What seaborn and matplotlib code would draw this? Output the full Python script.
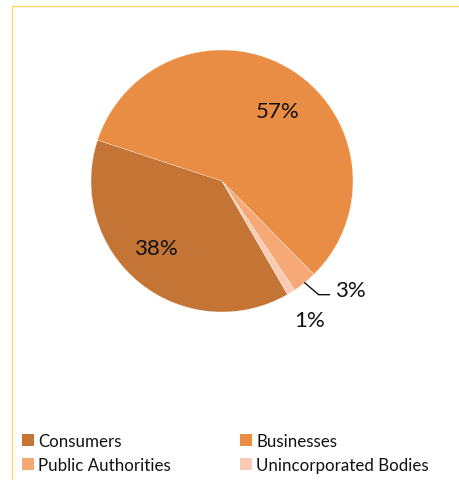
import numpy as np
import matplotlib
matplotlib.use("Agg")
import matplotlib.pyplot as plt
from matplotlib.patches import Rectangle, Patch
import seaborn as sns

# Share of complaints by complainant type (%)
categories = ["Consumers", "Businesses", "Public Authorities", "Unincorporated Bodies"]
shares = [38, 57, 3, 1]
palette = ["#C47535", "#E88D43", "#F6A877", "#F8CBB2"]

sns.set_theme(style="white")
plt.rcParams["font.family"] = ["Lato", "DejaVu Sans"]

W, H = 459, 481
fig = plt.figure(figsize=(W / 100, H / 100), dpi=100)
ax = fig.add_axes([0, 0, 1, 1])

# Pie laid out in pixel units (y upwards)
cx, cy, R = 222, H - 182, 131
wedges, _ = ax.pie(
    shares,
    colors=palette,
    startangle=-60,
    counterclock=False,
    center=(cx, cy),
    radius=R,
    wedgeprops=dict(linewidth=0.2, edgecolor="white"),
)
ax.set_xlim(0, W)
ax.set_ylim(0, H)
ax.set_aspect("equal")
ax.axis("off")

lab_fs = 16
ink = "#111111"

# Labels inside the two large slices
inside_pos = {"Consumers": (156, H - 249), "Businesses": (278, H - 112)}
for name, val in zip(categories, shares):
    if name in inside_pos:
        x, y = inside_pos[name]
        ax.text(x, y, f"{val}%", ha="center", va="center", fontsize=lab_fs, color=ink)

# Public Authorities: label with an elbow leader line from the slice edge
w = wedges[categories.index("Public Authorities")]
mid = np.deg2rad((w.theta1 + w.theta2) / 2)
p0 = (cx + R * np.cos(mid), cy + R * np.sin(mid))
p1 = (p0[0] + 14, p0[1] - 12)
p2 = (p1[0] + 11, p1[1])
ax.plot([p0[0], p1[0], p2[0]], [p0[1], p1[1], p2[1]], color=ink, lw=1.0,
        solid_joinstyle="miter")
ax.text(p2[0] + 5, p2[1] - 1, f"{shares[2]}%", ha="left", va="baseline",
        fontsize=lab_fs, color=ink)

# Unincorporated Bodies label just outside its thin slice
ax.text(309.5, H - 321, f"{shares[3]}%", ha="center", va="center",
        fontsize=lab_fs, color=ink)

# Chart frame (continues past the right and bottom edges)
ax.add_patch(Rectangle((11.5, -20), 600, H - 6.5 + 20, fill=False,
                       edgecolor="#FDD868", lw=1.0, clip_on=False))

# Legend, two columns, row-major order
order = [0, 2, 1, 3]
handles = [Patch(facecolor=palette[i], edgecolor="none") for i in order]
labels = [categories[i] for i in order]
ax.legend(handles, labels, ncol=2, loc="upper left",
          bbox_to_anchor=(22 / W, 1 - 434 / H), bbox_transform=fig.transFigure,
          frameon=False, fontsize=12.2, handlelength=0.7, handleheight=0.7,
          handletextpad=0.24, columnspacing=4.1, labelspacing=0.45,
          borderaxespad=0, borderpad=0, labelcolor=ink)

fig.savefig("out.png", dpi=100, facecolor="white")
